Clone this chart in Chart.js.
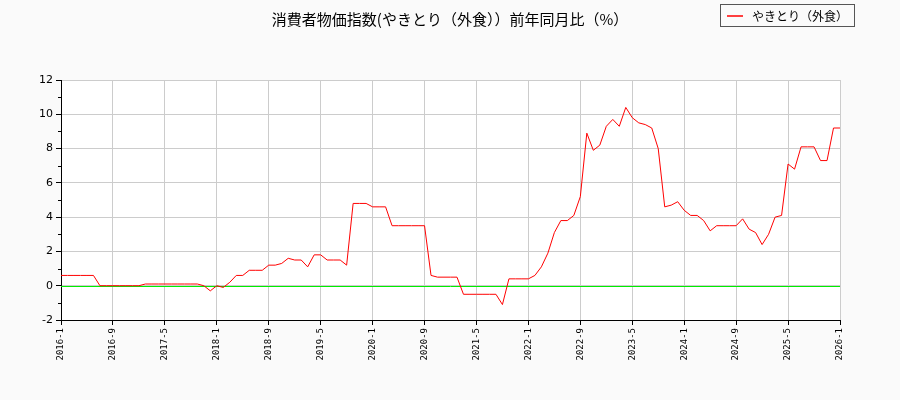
<!DOCTYPE html>
<html><head><meta charset="utf-8">
<script src="https://cdn.jsdelivr.net/npm/chart.js@4"></script>
<style>html,body{margin:0;padding:0;background:#fafafa}#w{width:900px;height:400px}</style>
</head><body><div id="w"><canvas id="c"></canvas></div>
<script>
const startYear = 2016, startMonth = 1, monthCount = 121;
const labels = [];
for (let i = 0; i < monthCount; i++) { const m = startMonth - 1 + i; labels.push((startYear + Math.floor(m / 12)) + '-' + (m % 12 + 1)); }
const values = [
0.6,0.6,0.6,0.6,0.6,0.6,0,0,0,0,0,0,
0,0.1,0.1,0.1,0.1,0.1,0.1,0.1,0.1,0.1,0,-0.3,
0,-0.1,0.2,0.6,0.6,0.9,0.9,0.9,1.2,1.2,1.3,1.6,
1.5,1.5,1.1,1.8,1.8,1.5,1.5,1.5,1.2,4.8,4.8,4.8,
4.6,4.6,4.6,3.5,3.5,3.5,3.5,3.5,3.5,0.6,0.5,0.5,
0.5,0.5,-0.5,-0.5,-0.5,-0.5,-0.5,-0.5,-1.1,0.4,0.4,0.4,
0.4,0.6,1.1,1.9,3.1,3.8,3.8,4.1,5.2,8.9,7.9,8.2,
9.3,9.7,9.3,10.4,9.8,9.5,9.4,9.2,8.0,4.6,4.7,4.9,
4.4,4.1,4.1,3.8,3.2,3.5,3.5,3.5,3.5,3.9,3.3,3.1,
2.4,3.0,4.0,4.1,7.1,6.8,8.1,8.1,8.1,7.3,7.3,9.2,
9.2];
const titleText = '消費者物価指数(やきとり（外食））前年同月比（%）';
const legendText = 'やきとり（外食）';
const yTicks = [-2,0,2,4,6,8,10,12];
const yMinorTicks = [-1,1,3,5,7,9,11];

const deco = {
  id: 'deco',
  beforeDraw(chart) {
    const {ctx, chartArea: a} = chart;
    ctx.save(); ctx.fillStyle = '#ffffff'; ctx.fillRect(a.left, a.top, a.right - a.left, a.bottom - a.top); ctx.restore();
  },
  beforeDatasetsDraw(chart) {
    const {ctx, chartArea: a, scales: {y}} = chart;
    const py = Math.round(y.getPixelForValue(0)) + 0.5;
    ctx.save(); ctx.strokeStyle = '#00ee00'; ctx.lineWidth = 1;
    ctx.beginPath(); ctx.moveTo(a.left, py); ctx.lineTo(a.right, py); ctx.stroke();
    ctx.strokeStyle = '#000';
    yMinorTicks.forEach(v => { const p = Math.round(y.getPixelForValue(v)) + 0.5; ctx.beginPath(); ctx.moveTo(a.left - 3, p); ctx.lineTo(a.left, p); ctx.stroke(); });
    ctx.restore();
  },
  afterDraw(chart) {
    const {ctx} = chart;
    ctx.save();
    ctx.fillStyle = '#000'; ctx.font = '15px "Noto Sans CJK JP"'; ctx.textAlign = 'center'; ctx.textBaseline = 'middle';
    ctx.fillText(titleText, 450, 19);
    ctx.fillStyle = '#fafafa'; ctx.strokeStyle = '#555'; ctx.lineWidth = 1;
    ctx.fillRect(720.5, 4.5, 134, 22); ctx.strokeRect(720.5, 4.5, 134, 22);
    ctx.strokeStyle = 'red'; ctx.lineWidth = 1.5; ctx.beginPath(); ctx.moveTo(727, 16); ctx.lineTo(743, 16); ctx.stroke();
    ctx.fillStyle = '#000'; ctx.font = '12px "Noto Sans CJK JP"'; ctx.textAlign = 'left';
    ctx.fillText(legendText, 752, 16);
    ctx.restore();
  }
};

new Chart(document.getElementById('c'), {
  type: 'line',
  data: { labels, datasets: [{ data: values, borderColor: 'red', borderWidth: 1, pointRadius: 0, tension: 0, fill: false }] },
  options: {
    responsive: true, maintainAspectRatio: false, animation: false,
    layout: { padding: { top: 80, right: 60, left: 0, bottom: 0 } },
    plugins: { legend: { display: false }, title: { display: false }, tooltip: { enabled: false } },
    scales: {
      x: {
        afterFit(s) { s.height = 80; },
        grid: { color: '#cccccc', tickLength: 5, tickColor: '#000', drawTicks: true,
          lineWidth: c => (c.index % 8 === 0 ? 1 : 0) },
        border: { color: '#000' },
        ticks: { autoSkip: false, maxRotation: 90, minRotation: 90, color: '#000',
          font: { family: 'DejaVu Sans Mono', size: 9 },
          callback: (v, i) => (i % 8 === 0 ? labels[i] : '') }
      },
      y: {
        min: -2, max: 12,
        afterFit(s) { s.width = 61; },
        afterBuildTicks(s) { s.ticks = yTicks.map(v => ({ value: v })); },
        grid: { color: '#cccccc', tickLength: 5, tickColor: '#000' },
        border: { color: '#000' },
        ticks: { color: '#000', font: { family: 'DejaVu Sans', size: 11 } }
      }
    }
  },
  plugins: [deco]
});
</script></body></html>
